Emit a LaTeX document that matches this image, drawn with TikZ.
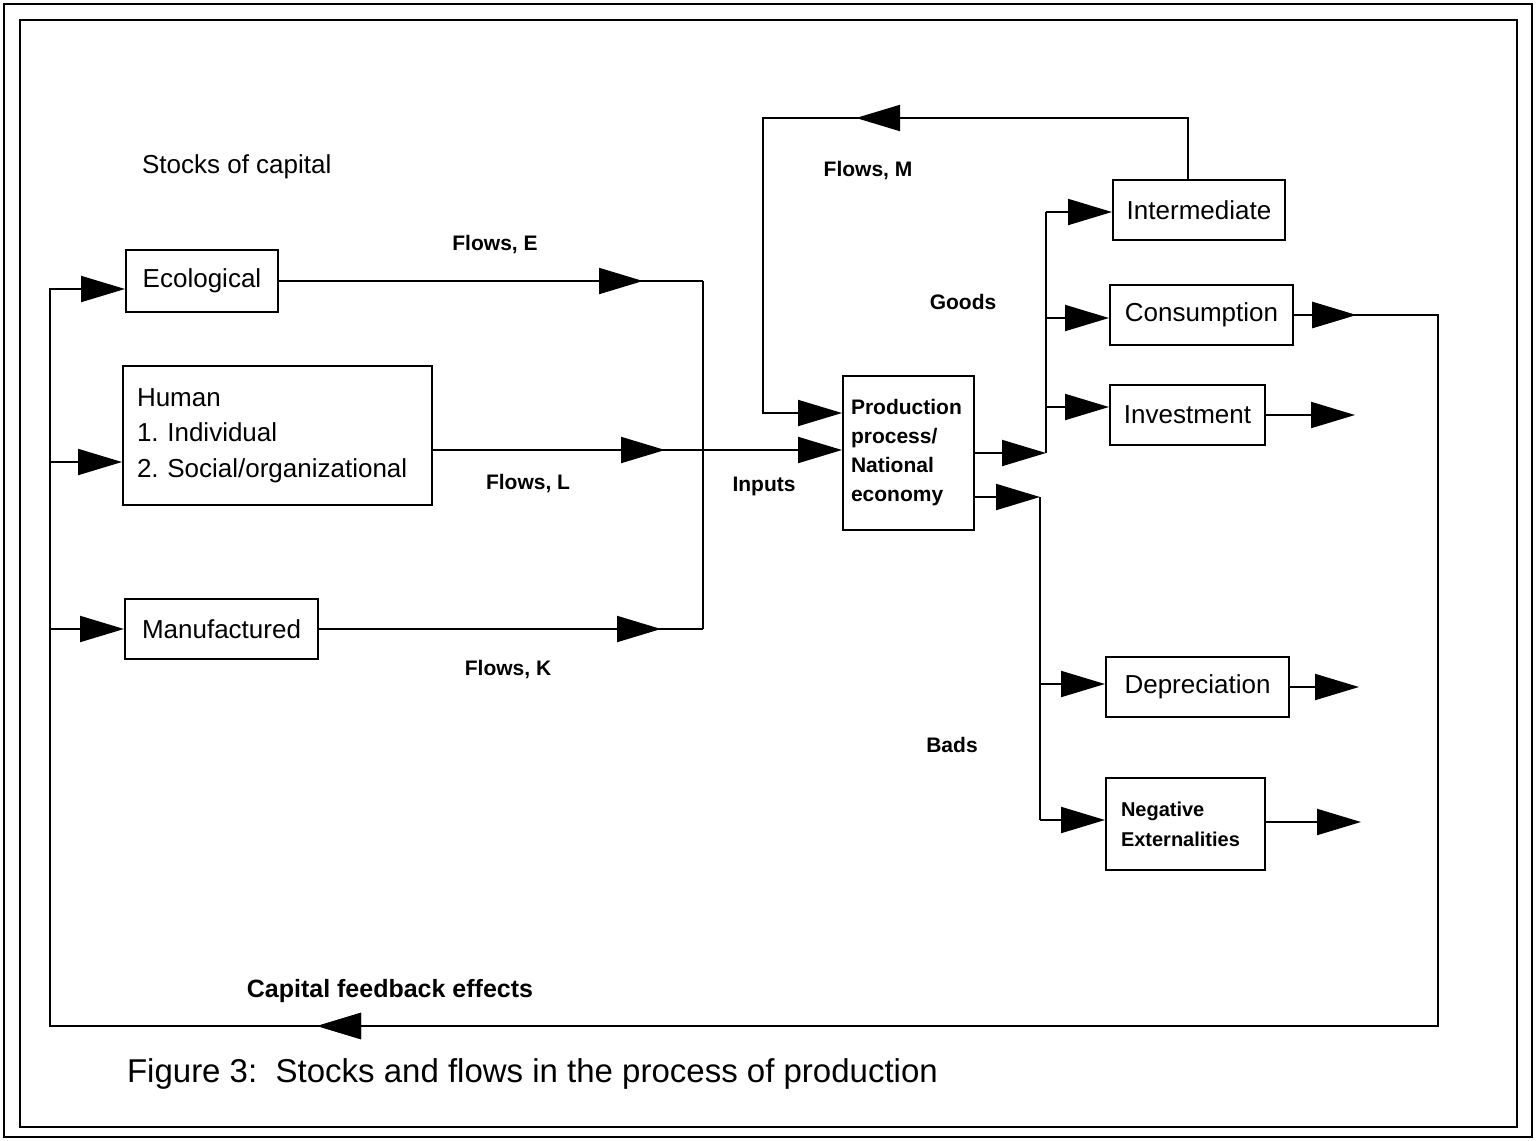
\documentclass[tikz,border=0pt]{standalone}
\usepackage{fontspec}
\setmainfont{Liberation Sans}
\frenchspacing
\usetikzlibrary{arrows.meta,positioning,decorations.markings}

\begin{document}
\begin{tikzpicture}[x=0.5pt, y=-0.5pt,
    every node/.style={font=\fontsize{13}{16}\selectfont},
    stock/.style={draw, line width=1pt, inner sep=0pt, minimum height=30pt},
    flowtext/.style={font=\bfseries\fontsize{10.5}{14.5}\selectfont},
    link/.style={line width=1pt},
    headarrow/.style={-{Triangle[length=22pt,width=13pt]}},
    midhead/.style={postaction={decorate}, decoration={markings, mark=at position #1 with {\arrow{Triangle[length=22pt,width=13pt]}}}}]
    \useasboundingbox (0,0) rectangle (1538,1141);
    \draw[link] (4,4) rectangle (1532,1137);
    \draw[link] (20,20) rectangle (1517,1127);

    \node[anchor=west] (stocks) at (135,167) {Stocks of capital};
    \node[stock, minimum width=76pt, minimum height=31pt] (eco) at (202,281) {Ecological};
    \node[stock, align=left, text width=140.5pt, inner xsep=7pt, minimum height=69.5pt, font=\fontsize{13}{17.75}\selectfont] (human) at (277.5,435.5) {Human\\1. Individual\\2. Social/organizational};
    \node[stock, minimum width=96.5pt] (manu) at (221.5,629) {Manufactured};
    \node[stock, flowtext, align=left, text width=57.5pt, inner xsep=4pt, minimum height=77pt] (prod) at (908.5,453) {Production\\process/\\National\\economy};
    \node[stock, minimum width=86pt] (inter) at (1199,210) {Intermediate};
    \node[stock, minimum width=91.5pt] (cons) at (1201.5,315) {Consumption};
    \node[stock, minimum width=77.5pt] (inv) at (1187.5,415) {Investment};
    \node[stock, minimum width=91.5pt] (depr) at (1197.5,687) {Depreciation};
    \node[stock, align=left, text width=64.5pt, inner xsep=7.5pt, minimum height=46pt, font=\bfseries\fontsize{10}{15}\selectfont] (negext) at (1185.5,824) {Negative\\Externalities};

    \node[flowtext] (flowe) at (495,245) {Flows, E};
    \node[flowtext] (flowl) at (528,484) {Flows, L};
    \node[flowtext] (flowk) at (508,670) {Flows, K};
    \node[flowtext] (inputs) at (764,486) {Inputs};
    \node[flowtext] (flowm) at (868,171) {Flows, M};
    \node[flowtext] (goods) at (963,302) {Goods};
    \node[flowtext] (bads) at (952,745) {Bads};
    \node[flowtext, font=\bfseries\fontsize{12.5}{15}\selectfont] (feedback) at (390,991) {Capital feedback effects};
    \node[anchor=west, font=\fontsize{16.5}{20}\selectfont] (caption) at (120,1074) {Figure 3:\ \ Stocks and flows in the process of production};

    \coordinate (je) at (703,281);
    \coordinate (jl) at (703,450);
    \coordinate (jk) at (703,629);
    \coordinate (mr) at (1188,118);
    \coordinate (ml) at (763,118);
    \coordinate (min) at (763,413);
    \coordinate (fa) at (1438,315);
    \coordinate (fb) at (1438,1026);
    \coordinate (fc) at (50,1026);
    \coordinate (fd) at (50,289);
    \coordinate (fh) at (50,462);
    \coordinate (fm) at (50,629);
    \coordinate (gout) at (1046,453);
    \coordinate (gtop) at (1046,212);
    \coordinate (gc) at (1046,318);
    \coordinate (gi) at (1046,407);
    \coordinate (bout) at (1040,497);
    \coordinate (bd) at (1040,684);
    \coordinate (bbot) at (1040,820);
    \coordinate (invend) at (1355,415);
    \coordinate (deprend) at (1359,687);
    \coordinate (negend) at (1361,822);

    \draw[link, midhead=182pt] (eco.east) -- (je);
    \draw[link, headarrow, midhead=116pt] (human.east |- jl) -- (jl) -- (prod.west |- jl);
    \draw[link, midhead=171pt] (manu.east) -- (jk);
    \draw[link] (je) -- (jk);
    \draw[link, headarrow, midhead=196.5pt] (inter.north -| mr) -- (mr) -- (ml) -- (min) -- (prod.west |- min);
    \draw[link, headarrow, midhead=31pt, midhead=988pt] (cons.east) -- (fa) -- (fb) -- (fc) -- (fd) -- (eco.west |- fd);
    \draw[link, headarrow] (fh) -- (human.west |- fh);
    \draw[link, headarrow] (fm) -- (manu.west);
    \draw[link, headarrow] (prod.east |- gout) -- (gout);
    \draw[link] (gout) -- (gtop);
    \draw[link, headarrow] (gtop) -- (inter.west |- gtop);
    \draw[link, headarrow] (gc) -- (cons.west |- gc);
    \draw[link, headarrow] (gi) -- (inv.west |- gi);
    \draw[link, headarrow] (prod.east |- bout) -- (bout);
    \draw[link] (bout) -- (bbot);
    \draw[link, headarrow] (bd) -- (depr.west |- bd);
    \draw[link, headarrow] (bbot) -- (negext.west |- bbot);
    \draw[link, headarrow] (inv.east) -- (invend);
    \draw[link, headarrow] (depr.east) -- (deprend);
    \draw[link, headarrow] (negext.east |- negend) -- (negend);
  \end{tikzpicture}
\end{document}
